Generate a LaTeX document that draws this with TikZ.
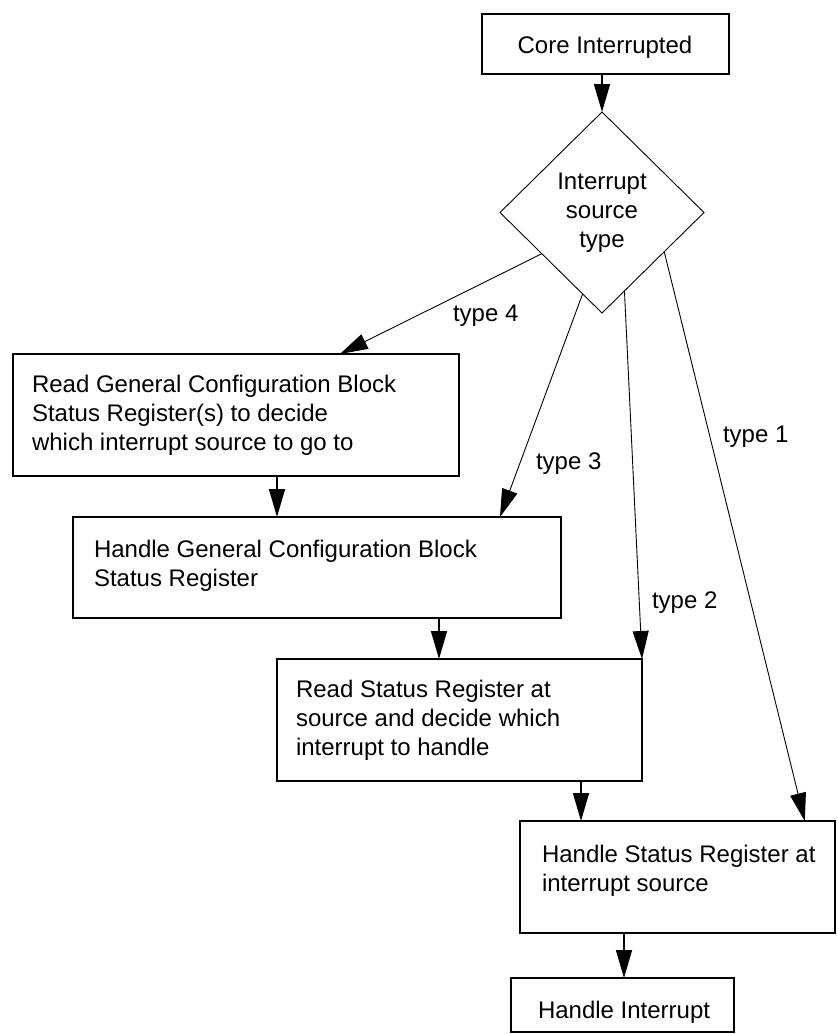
\documentclass[tikz,border=0pt]{standalone}
\usepackage{fontspec}
\setmainfont{Liberation Sans}
\usetikzlibrary{arrows.meta,shapes.geometric,calc}
\begin{document}
\begin{tikzpicture}[x=1pt,y=-1pt,
  box/.style={draw,line width=1.6pt,inner sep=0pt,outer sep=0pt},
  txt/.style={inner sep=0pt,outer sep=0pt,align=left,anchor=base west,font=\fontsize{24pt}{29pt}\selectfont},
  lbl/.style={inner sep=0pt,outer sep=0pt,anchor=base west,font=\fontsize{24pt}{29pt}\selectfont},
  varr/.style={line width=1.6pt,-{Triangle[length=28pt,width=16pt]}},
  darr/.style={line width=0.9pt,-{Triangle[length=28pt,width=16pt]}}]
\useasboundingbox (0,0) rectangle (838,1034);
% boxes
\node[box,minimum width=247pt,minimum height=60pt] (core) at (605.5,44) {};
\node[draw,diamond,line width=0.9pt,inner sep=0pt,outer sep=0pt,minimum width=204pt,minimum height=201pt,align=center,font=\fontsize{24pt}{29pt}\selectfont] (dia) at (602,212.5) {Interrupt\\source\\type};
\node[box,minimum width=446pt,minimum height=122pt] (b2) at (236,415) {};
\node[box,minimum width=488pt,minimum height=101pt] (b3) at (317,567.5) {};
\node[box,minimum width=365pt,minimum height=122pt] (b4) at (459.5,720) {};
\node[box,minimum width=315pt,minimum height=112pt] (b5) at (677.5,877) {};
\node[box,minimum width=223pt,minimum height=54pt] (b6) at (622.5,1005) {};
% texts (base anchor = last line baseline)
\node[lbl,anchor=base] (t1) at (605,53) {Core Interrupted};
\node[txt] (t2) at (32,450) {Read General Configuration Block\\Status Register(s) to decide\\which interrupt source to go to};
\node[txt] (t3) at (94,586) {Handle General Configuration Block\\Status Register};
\node[txt] (t4) at (296,755) {Read Status Register at\\source and decide which\\interrupt to handle};
\node[txt] (t5) at (542,891) {Handle Status Register at\\interrupt source};
\node[txt] (t6) at (538,1018) {Handle Interrupt};
% labels
\node[lbl] (l4) at (453,321) {type 4};
\node[lbl] (l3) at (536,469) {type 3};
\node[lbl] (l2) at (652,608) {type 2};
\node[lbl] (l1) at (723,442) {type 1};
% helper x positions
\coordinate (x23) at (277,0);
\coordinate (x34) at (439,0);
\coordinate (x45) at (581,0);
\coordinate (x56) at (624,0);
% connectors
\draw[varr] (core.south -| dia.north) -- (dia.north);
\draw[darr] ($(dia.west)!0.41!(dia.south)$) -- ($(b2.north west)!0.733!(b2.north east)$);
\draw[darr] ($(dia.west)!0.81!(dia.south)$) -- ($(b3.north west)!0.875!(b3.north east)$);
\draw[darr] ($(dia.south)!0.22!(dia.east)$) -- (b4.north east);
\draw[darr] ($(dia.south)!0.61!(dia.east)$) -- ($(b5.north west)!0.904!(b5.north east)$);
\draw[varr] (b2.south -| x23) -- (b3.north -| x23);
\draw[varr] (b3.south -| x34) -- (b4.north -| x34);
\draw[varr] (b4.south -| x45) -- (b5.north -| x45);
\draw[varr] (b5.south -| x56) -- (b6.north -| x56);
\end{tikzpicture}
\end{document}
